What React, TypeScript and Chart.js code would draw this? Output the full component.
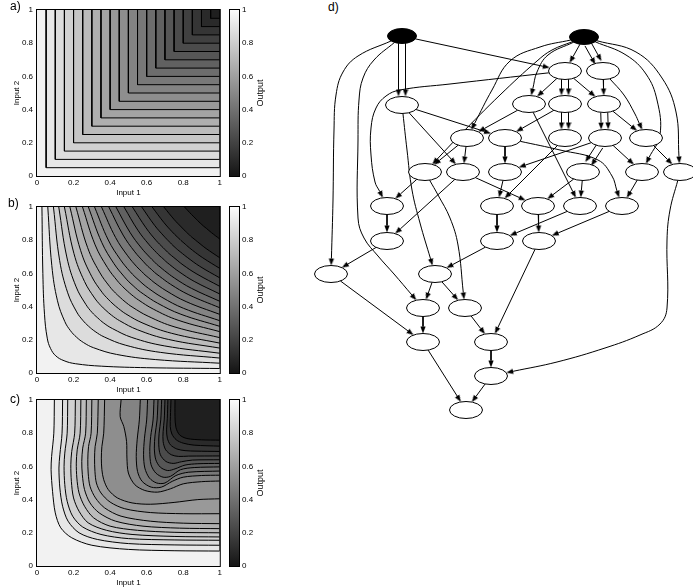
import React, { useEffect, useRef } from 'react';
import { Chart, registerables } from 'chart.js';
Chart.register(...registerables);

const FONT = "'Liberation Sans', Arial, Helvetica, sans-serif";

// ---------------- Panel a: contour levels (L-shaped contours) ----------------
const levelsA = [0.05, 0.1, 0.15, 0.2, 0.25, 0.3, 0.35, 0.4, 0.45, 0.5, 0.55, 0.6, 0.65, 0.7, 0.75, 0.8, 0.85, 0.9, 0.95];

// ---------------- Panel b: contour half-curves (top edge -> diagonal), symmetric about y = x ----------------
const halfCurvesB: number[][][] = [
  [[0.027, 1], [0.032, 0.6], [0.041, 0.354], [0.056, 0.21], [0.074, 0.148], [0.103, 0.103]],
  [[0.059, 1], [0.081, 0.647], [0.112, 0.435], [0.152, 0.31], [0.183, 0.255], [0.216, 0.216]],
  [[0.09, 1], [0.124, 0.677], [0.168, 0.483], [0.217, 0.368], [0.25, 0.318], [0.282, 0.282]],
  [[0.119, 1], [0.163, 0.699], [0.214, 0.519], [0.268, 0.412], [0.301, 0.365], [0.332, 0.332]],
  [[0.15, 1], [0.202, 0.72], [0.26, 0.551], [0.315, 0.452], [0.348, 0.408], [0.377, 0.377]],
  [[0.18, 1], [0.239, 0.737], [0.3, 0.58], [0.356, 0.486], [0.389, 0.445], [0.416, 0.416]],
  [[0.213, 1], [0.277, 0.755], [0.342, 0.608], [0.398, 0.52], [0.429, 0.482], [0.455, 0.455]],
  [[0.249, 1], [0.318, 0.772], [0.385, 0.636], [0.44, 0.555], [0.47, 0.519], [0.494, 0.494]],
  [[0.281, 1], [0.354, 0.787], [0.421, 0.659], [0.475, 0.583], [0.503, 0.549], [0.526, 0.526]],
  [[0.315, 1], [0.39, 0.801], [0.457, 0.682], [0.509, 0.611], [0.536, 0.58], [0.558, 0.558]],
  [[0.353, 1], [0.43, 0.816], [0.496, 0.706], [0.546, 0.64], [0.572, 0.612], [0.591, 0.591]],
  [[0.393, 1], [0.471, 0.831], [0.535, 0.73], [0.583, 0.67], [0.606, 0.643], [0.625, 0.625]],
  [[0.432, 1], [0.51, 0.845], [0.572, 0.752], [0.617, 0.697], [0.639, 0.673], [0.655, 0.655]],
  [[0.476, 1], [0.552, 0.86], [0.611, 0.776], [0.653, 0.726], [0.673, 0.704], [0.689, 0.689]],
  [[0.522, 1], [0.596, 0.875], [0.651, 0.799], [0.69, 0.755], [0.708, 0.735], [0.721, 0.721]],
  [[0.573, 1], [0.643, 0.89], [0.694, 0.825], [0.728, 0.786], [0.744, 0.768], [0.756, 0.756]],
  [[0.63, 1], [0.694, 0.907], [0.739, 0.851], [0.769, 0.818], [0.783, 0.804], [0.793, 0.793]],
  [[0.694, 1], [0.75, 0.925], [0.789, 0.88], [0.813, 0.853], [0.824, 0.841], [0.833, 0.833]],
  [[0.807, 1], [0.846, 0.954], [0.871, 0.927], [0.886, 0.91], [0.893, 0.903], [0.898, 0.898]],
];

// ---------------- Panel c: contour curves (top edge -> right edge) ----------------
const outerCurvesC: number[][][] = [
  [[0.095, 1], [0.092, 0.8], [0.08, 0.66], [0.077, 0.58], [0.085, 0.45], [0.1, 0.32], [0.13, 0.23], [0.19, 0.17], [0.3, 0.125], [0.5, 0.1], [0.75, 0.092], [1, 0.09]],
  [[0.14, 1], [0.137, 0.8], [0.125, 0.67], [0.12, 0.59], [0.125, 0.47], [0.14, 0.36], [0.17, 0.27], [0.23, 0.2], [0.33, 0.16], [0.5, 0.135], [0.75, 0.127], [1, 0.125]],
  [[0.168, 1], [0.165, 0.8], [0.152, 0.68], [0.148, 0.6], [0.152, 0.49], [0.165, 0.39], [0.195, 0.3], [0.25, 0.235], [0.35, 0.19], [0.5, 0.165], [0.75, 0.157], [1, 0.155]],
  [[0.21, 1], [0.206, 0.8], [0.19, 0.69], [0.185, 0.61], [0.188, 0.51], [0.2, 0.41], [0.23, 0.33], [0.28, 0.26], [0.38, 0.215], [0.52, 0.19], [0.75, 0.178], [1, 0.175]],
  [[0.24, 1], [0.236, 0.8], [0.22, 0.7], [0.215, 0.62], [0.218, 0.53], [0.23, 0.44], [0.26, 0.36], [0.31, 0.29], [0.4, 0.24], [0.55, 0.215], [0.75, 0.203], [1, 0.2]],
  [[0.27, 1], [0.266, 0.8], [0.25, 0.71], [0.245, 0.63], [0.248, 0.55], [0.26, 0.46], [0.29, 0.38], [0.34, 0.32], [0.43, 0.27], [0.58, 0.24], [0.78, 0.228], [1, 0.225]],
  [[0.3, 1], [0.296, 0.8], [0.282, 0.72], [0.278, 0.64], [0.28, 0.56], [0.29, 0.48], [0.32, 0.41], [0.37, 0.35], [0.46, 0.3], [0.62, 0.27], [0.8, 0.258], [1, 0.255]],
  [[0.335, 1], [0.33, 0.8], [0.318, 0.72], [0.315, 0.65], [0.317, 0.57], [0.325, 0.5], [0.35, 0.44], [0.4, 0.385], [0.48, 0.345], [0.62, 0.322], [0.8, 0.315], [1, 0.315]],
  [[0.37, 1], [0.365, 0.8], [0.355, 0.72], [0.352, 0.65], [0.355, 0.58], [0.365, 0.52], [0.39, 0.46], [0.44, 0.41], [0.52, 0.38], [0.62, 0.372], [0.75, 0.383], [0.88, 0.4], [1, 0.405]],
];
const lobeCurvesC: number[][][] = [
  [[0.46, 1], [0.455, 0.9], [0.475, 0.84], [0.49, 0.75], [0.492, 0.65], [0.5, 0.56], [0.535, 0.49], [0.59, 0.455], [0.66, 0.445], [0.73, 0.465], [0.8, 0.495], [0.9, 0.508], [1, 0.512]],
  [[0.565, 1], [0.56, 0.88], [0.548, 0.76], [0.543, 0.66], [0.55, 0.57], [0.575, 0.51], [0.625, 0.475], [0.68, 0.475], [0.74, 0.51], [0.8, 0.535], [0.9, 0.545], [1, 0.547]],
  [[0.605, 1], [0.6, 0.88], [0.588, 0.77], [0.583, 0.67], [0.59, 0.59], [0.615, 0.53], [0.655, 0.5], [0.7, 0.5], [0.76, 0.545], [0.83, 0.565], [1, 0.572]],
  [[0.64, 1], [0.635, 0.88], [0.622, 0.78], [0.617, 0.69], [0.624, 0.61], [0.65, 0.56], [0.69, 0.535], [0.73, 0.54], [0.785, 0.58], [0.86, 0.593], [1, 0.597]],
  [[0.662, 1], [0.657, 0.88], [0.646, 0.79], [0.642, 0.71], [0.65, 0.64], [0.675, 0.595], [0.715, 0.575], [0.755, 0.585], [0.81, 0.608], [0.88, 0.616], [1, 0.618]],
  [[0.682, 1], [0.677, 0.88], [0.668, 0.8], [0.666, 0.73], [0.675, 0.67], [0.705, 0.63], [0.745, 0.618], [0.79, 0.628], [0.85, 0.638], [1, 0.64]],
  [[0.7, 1], [0.696, 0.88], [0.69, 0.81], [0.69, 0.75], [0.704, 0.7], [0.735, 0.67], [0.775, 0.66], [0.83, 0.662], [1, 0.663]],
  [[0.716, 1], [0.713, 0.89], [0.709, 0.82], [0.713, 0.77], [0.73, 0.73], [0.765, 0.705], [0.81, 0.695], [0.87, 0.692], [1, 0.69]],
  [[0.733, 1], [0.73, 0.9], [0.729, 0.84], [0.738, 0.795], [0.762, 0.76], [0.8, 0.74], [0.86, 0.728], [1, 0.722]],
  [[0.755, 1], [0.755, 0.9], [0.76, 0.835], [0.78, 0.79], [0.82, 0.768], [0.9, 0.76], [1, 0.758]],
];

// ---------------- Panel d: directed graph ----------------
const nodeNames = ['R1', 'R2', 'A1', 'A2', 'B0', 'B1', 'B2', 'B3', 'C1', 'C2', 'C3', 'C4', 'C5', 'D1', 'D2', 'D3', 'D4', 'D5', 'D6', 'E1', 'E2', 'E3', 'E4', 'E5', 'F1', 'F2', 'F3', 'G1', 'G2', 'H1', 'H2', 'I1', 'I2', 'J1', 'K1'];
const nodeX = [402, 584, 565, 603, 402, 529, 565, 604, 467, 505, 565, 605, 646, 425, 463, 505, 583, 642, 680, 387, 497, 538, 580, 622, 387, 497, 539, 331, 435, 423, 465, 423, 491, 491, 466];
const nodeY = [36, 37, 71, 71, 105, 104, 104, 104, 138, 138, 138, 138, 138, 172, 172, 172, 172, 172, 172, 206, 206, 206, 206, 206, 241, 241, 241, 274, 274, 308, 308, 342, 342, 376, 410];
const rootNodes = ['R1', 'R2'];
// [from, to, multiplicity, bend points]
const edges: [string, string, number, number[][]][] = [
  ['R1', 'B0', 2, []],
  ['R1', 'A1', 1, []],
  ['R1', 'G1', 1, [[358, 56], [343, 72], [336, 95], [334, 130], [333, 200]]],
  ['R1', 'H1', 1, [[374, 60], [363, 78], [359, 100], [358, 140], [358, 218], [364, 238], [378, 256], [394, 274]]],
  ['R2', 'A1', 1, []],
  ['R2', 'A2', 2, []],
  ['R2', 'B1', 1, [[548, 55], [537, 72]]],
  ['R2', 'C1', 1, [[540, 47], [510, 61], [492, 90]]],
  ['R2', 'D1', 1, [[552, 50], [537, 61], [500, 95], [460, 135]]],
  ['R2', 'D5', 1, [[626, 55], [646, 74], [657, 100], [660, 135]]],
  ['R2', 'D6', 1, [[636, 52], [662, 78], [676, 112]]],
  ['A1', 'B1', 1, []],
  ['A1', 'B2', 2, []],
  ['A1', 'B3', 1, []],
  ['A1', 'E1', 1, [[450, 84], [400, 90], [386, 96], [376, 108], [371, 128], [371, 155], [375, 182]]],
  ['A2', 'B3', 1, []],
  ['A2', 'C5', 1, [[624, 95], [635, 114]]],
  ['B0', 'C2', 1, []],
  ['B0', 'D2', 1, []],
  ['B0', 'G2', 1, [[407, 150], [412, 190], [420, 223]]],
  ['B1', 'C1', 1, []],
  ['B1', 'E4', 1, []],
  ['B2', 'C2', 1, []],
  ['B2', 'C3', 2, []],
  ['B3', 'C4', 2, []],
  ['B3', 'C5', 1, []],
  ['C1', 'D1', 1, []],
  ['C1', 'D2', 1, []],
  ['C2', 'D3', 1, []],
  ['C2', 'E5', 1, [[560, 150], [598, 160], [612, 176]]],
  ['C3', 'E2', 1, []],
  ['C4', 'D3', 1, []],
  ['C4', 'D4', 2, []],
  ['C4', 'D5', 1, []],
  ['C5', 'D6', 1, []],
  ['D1', 'E1', 1, []],
  ['D1', 'H2', 1, [[438, 195], [450, 218], [458, 245]]],
  ['D2', 'E3', 1, []],
  ['D2', 'F1', 1, []],
  ['D3', 'E2', 1, []],
  ['D4', 'E3', 1, []],
  ['D4', 'E4', 1, []],
  ['D5', 'E5', 1, []],
  ['D6', 'J1', 1, [[670, 210], [667, 240], [667, 308], [660, 324], [640, 335], [605, 348], [557, 362]]],
  ['E1', 'F1', 1, []],
  ['E2', 'F2', 1, []],
  ['E3', 'F3', 1, []],
  ['E4', 'F2', 1, []],
  ['E5', 'F3', 1, []],
  ['F1', 'G1', 1, []],
  ['F2', 'G2', 1, []],
  ['F3', 'I2', 1, []],
  ['G1', 'I1', 1, []],
  ['G2', 'H1', 1, []],
  ['G2', 'H2', 1, []],
  ['H1', 'I1', 1, []],
  ['H2', 'I2', 1, []],
  ['I1', 'K1', 1, []],
  ['I2', 'J1', 1, []],
  ['J1', 'K1', 1, []],
];

// ---------------- helpers ----------------
const tickFont = { family: FONT, size: 8 };
const fmtTick = (v: any) => {
  const n = Math.round(Number(v) * 100) / 100;
  return String(n);
};
const gray = (v: number) => {
  const c = Math.round(Math.max(0, Math.min(1, v)) * 255);
  return `rgb(${c},${c},${c})`;
};
const bandColor = (i: number, n: number) => gray(0.95 - i * (0.83 / n));

const framePlugin = {
  id: 'frame',
  beforeDatasetsDraw(chart: any, _a: any, opts: any) {
    if (!opts || !opts.bg) return;
    const { ctx, chartArea: a } = chart;
    ctx.save();
    ctx.fillStyle = opts.bg;
    ctx.fillRect(a.left, a.top, a.right - a.left, a.bottom - a.top);
    ctx.restore();
  },
  afterDatasetsDraw(chart: any) {
    const { ctx, chartArea: a } = chart;
    ctx.save();
    ctx.strokeStyle = '#000';
    ctx.lineWidth = 1;
    ctx.strokeRect(a.left - 0.5, a.top - 0.5, a.right - a.left + 1, a.bottom - a.top + 1);
    ctx.restore();
  },
};

function mirrorHalf(half: number[][]) {
  const back = half.slice(0, -1).reverse().map(([x, y]) => [y, x]);
  return [...half, ...back];
}

function ContourPanel({ top, curves, tension }: { top: number; curves: number[][][]; tension: number }) {
  const ref = useRef<HTMLCanvasElement>(null);
  useEffect(() => {
    const n = curves.length;
    const datasets = curves.map((pts, k) => {
      const data = pts.map(([x, y]) => ({ x, y }));
      const last = data[data.length - 1];
      data.push({ x: last.x, y: last.y }, { x: 1, y: 1 });
      return {
        data,
        showLine: true,
        fill: 'shape',
        backgroundColor: bandColor(k + 1, n),
        borderColor: '#000',
        borderWidth: 1,
        pointRadius: 0,
        pointHoverRadius: 0,
        tension,
        order: -k,
      };
    });
    const chart = new Chart(ref.current as HTMLCanvasElement, {
      type: 'scatter',
      data: { datasets } as any,
      options: {
        animation: false,
        responsive: false,
        events: [],
        layout: { padding: { top: 10, left: 0, right: 2, bottom: 0 }, autoPadding: false } as any,
        plugins: { legend: { display: false }, tooltip: { enabled: false }, frame: { bg: bandColor(0, n) } } as any,
        scales: {
          x: {
            type: 'linear', min: 0, max: 1,
            ticks: { stepSize: 0.2, padding: 2, font: tickFont, color: '#000', maxRotation: 0, autoSkip: false, callback: fmtTick },
            grid: { display: false, drawTicks: false },
            border: { display: false },
            title: { display: true, text: 'Input 1', font: tickFont, color: '#000', padding: 0 },
            afterFit: (s: any) => { s.height = 22; },
          },
          y: {
            type: 'linear', min: 0, max: 1,
            ticks: { stepSize: 0.2, padding: 4, font: tickFont, color: '#000', autoSkip: false, callback: fmtTick },
            grid: { display: false, drawTicks: false },
            border: { display: false },
            title: { display: true, text: 'Input 2', font: tickFont, color: '#000', padding: { top: 12, bottom: 0 } },
            afterFit: (s: any) => { s.width = 37; },
          },
        } as any,
      },
      plugins: [framePlugin as any],
    });
    return () => chart.destroy();
  }, []);
  return <canvas ref={ref} width={224} height={198} style={{ position: 'absolute', left: 0, top: top - 10, width: 224, height: 198 }} />;
}

function Colorbar({ top }: { top: number }) {
  const ref = useRef<HTMLCanvasElement>(null);
  useEffect(() => {
    const chart = new Chart(ref.current as HTMLCanvasElement, {
      type: 'bar',
      data: {
        labels: ['Output'],
        datasets: [{
          data: [[0, 1]] as any,
          backgroundColor: (c: any) => {
            const a = c.chart.chartArea;
            if (!a) return '#888';
            const g = c.chart.ctx.createLinearGradient(0, a.bottom, 0, a.top);
            g.addColorStop(0, '#141414');
            g.addColorStop(1, '#fcfcfc');
            return g;
          },
          borderWidth: 0,
          categoryPercentage: 1,
          barPercentage: 1,
        }],
      },
      options: {
        animation: false,
        responsive: false,
        events: [],
        layout: { padding: { top: 10, bottom: 10, left: 2, right: 0 }, autoPadding: false } as any,
        plugins: { legend: { display: false }, tooltip: { enabled: false } } as any,
        scales: {
          x: { display: false },
          y: {
            position: 'right', min: 0, max: 1,
            ticks: { stepSize: 0.2, padding: 3, font: tickFont, color: '#000', callback: fmtTick },
            grid: { display: false, drawTicks: false },
            border: { display: false },
            afterFit: (s: any) => { s.width = 37; },
          },
        } as any,
      },
      plugins: [framePlugin as any],
    });
    return () => chart.destroy();
  }, []);
  return <canvas ref={ref} width={48} height={186} style={{ position: 'absolute', left: 228, top: top - 10, width: 48, height: 186 }} />;
}

function GraphPanel() {
  const ref = useRef<HTMLCanvasElement>(null);
  useEffect(() => {
    const ell = (rx: number, ry: number, fill: string) => {
      const c = document.createElement('canvas');
      c.width = 2 * Math.ceil(rx + 1.5);
      c.height = 2 * Math.ceil(ry + 1.5);
      const g = c.getContext('2d') as CanvasRenderingContext2D;
      g.beginPath();
      g.ellipse(c.width / 2, c.height / 2, rx, ry, 0, 0, Math.PI * 2);
      g.fillStyle = fill;
      g.fill();
      g.lineWidth = 1;
      g.strokeStyle = '#000';
      g.stroke();
      return c;
    };
    const WR = [16.5, 8.5];
    const BR = [14.5, 7.5];
    const whiteNode = ell(WR[0], WR[1], '#fff');
    const blackNode = ell(BR[0], BR[1], '#000');
    const AL = 7;
    const arrow = document.createElement('canvas');
    arrow.width = 6;
    arrow.height = 2 * AL;
    {
      const g = arrow.getContext('2d') as CanvasRenderingContext2D;
      g.beginPath();
      g.moveTo(3, 0);
      g.lineTo(5.6, AL);
      g.lineTo(0.4, AL);
      g.closePath();
      g.fillStyle = '#000';
      g.fill();
    }
    const idx: Record<string, number> = {};
    nodeNames.forEach((n, i) => { idx[n] = i; });
    const radii = (i: number) => (rootNodes.includes(nodeNames[i]) ? BR : WR);
    const onBoundary = (i: number, tx: number, ty: number) => {
      const [rx, ry] = radii(i);
      const dx = tx - nodeX[i];
      const dy = ty - nodeY[i];
      const r = 1 / Math.sqrt((dx / rx) ** 2 + (dy / ry) ** 2);
      return [nodeX[i] + dx * r, nodeY[i] + dy * r];
    };

    const edgeSets: { x: number; y: number }[][] = [];
    const arrowPts: { x: number; y: number }[] = [];
    const arrowRot: number[] = [];
    edges.forEach(([a, b, mult, way]) => {
      const s = idx[a];
      const t = idx[b];
      const offs = mult === 2 ? [-3.5, 3.5] : [0];
      offs.forEach((off) => {
        const first = way.length ? way[0] : [nodeX[t], nodeY[t]];
        const lastSrc = way.length ? way[way.length - 1] : [nodeX[s], nodeY[s]];
        let p0 = onBoundary(s, first[0], first[1]);
        let tip = onBoundary(t, lastSrc[0], lastSrc[1]);
        if (off) {
          const dx = tip[0] - p0[0];
          const dy = tip[1] - p0[1];
          const len = Math.hypot(dx, dy);
          const px = (-dy / len) * off;
          const py = (dx / len) * off;
          p0 = [p0[0] + px, p0[1] + py];
          tip = [tip[0] + px, tip[1] + py];
        }
        const prev = way.length ? way[way.length - 1] : p0;
        const ux0 = tip[0] - prev[0];
        const uy0 = tip[1] - prev[1];
        const ul = Math.hypot(ux0, uy0);
        const ux = ux0 / ul;
        const uy = uy0 / ul;
        const base = [tip[0] - ux * AL, tip[1] - uy * AL];
        const pts = [p0, ...way, base].map(([x, y]) => ({ x, y }));
        edgeSets.push(pts);
        arrowPts.push({ x: base[0], y: base[1] });
        arrowRot.push((Math.atan2(ux, -uy) * 180) / Math.PI);
      });
    });

    const whiteData: { x: number; y: number }[] = [];
    const blackData: { x: number; y: number }[] = [];
    nodeNames.forEach((n, i) => {
      (rootNodes.includes(n) ? blackData : whiteData).push({ x: nodeX[i], y: nodeY[i] });
    });

    const datasets: any[] = [
      { data: whiteData, pointStyle: whiteNode, pointRadius: 8, pointHoverRadius: 8, order: 0 },
      { data: blackData, pointStyle: blackNode, pointRadius: 8, pointHoverRadius: 8, order: 0 },
      { data: arrowPts, pointStyle: arrow, pointRotation: arrowRot, pointRadius: 4, pointHoverRadius: 4, order: 1 },
      ...edgeSets.map((pts) => ({
        data: pts,
        showLine: true,
        pointRadius: 0,
        pointHoverRadius: 0,
        borderColor: '#000',
        borderWidth: 1,
        tension: pts.length > 2 ? 0.4 : 0,
        fill: false,
        order: 2,
      })),
    ];

    const chart = new Chart(ref.current as HTMLCanvasElement, {
      type: 'scatter',
      data: { datasets },
      options: {
        animation: false,
        responsive: false,
        events: [],
        layout: { padding: 0, autoPadding: false } as any,
        plugins: { legend: { display: false }, tooltip: { enabled: false } } as any,
        scales: {
          x: { type: 'linear', min: 300, max: 693, display: false },
          y: { type: 'linear', min: 0, max: 430, reverse: true, display: false },
        } as any,
      },
    });
    return () => chart.destroy();
  }, []);
  return <canvas ref={ref} width={393} height={430} style={{ position: 'absolute', left: 300, top: 0, width: 393, height: 430 }} />;
}

const panelLabel = (text: string, left: number, top: number) => (
  <div style={{ position: 'absolute', left, top, fontSize: 12, lineHeight: '12px', fontFamily: FONT, color: '#000' }}>{text}</div>
);
const outputLabel = (cy: number) => (
  <div style={{ position: 'absolute', left: 260, top: cy, transform: 'translate(-50%, -50%) rotate(-90deg)', fontSize: 9, lineHeight: '10px', fontFamily: FONT, whiteSpace: 'nowrap', color: '#000' }}>Output</div>
);

export default function App() {
  const curvesA = levelsA.map((t) => [[t, 1], [t, t], [1, t]]);
  const curvesB = halfCurvesB.map(mirrorHalf);
  const curvesC = [...outerCurvesC, ...lobeCurvesC];
  const tops = [10, 207, 400];
  return (
    <div style={{ position: 'absolute', left: 0, top: 0, width: 693, height: 588, background: '#fff', overflow: 'hidden' }}>
      <ContourPanel top={tops[0]} curves={curvesA} tension={0} />
      <ContourPanel top={tops[1]} curves={curvesB} tension={0.4} />
      <ContourPanel top={tops[2]} curves={curvesC} tension={0.3} />
      <Colorbar top={tops[0]} />
      <Colorbar top={tops[1]} />
      <Colorbar top={tops[2]} />
      {outputLabel(tops[0] + 83)}
      {outputLabel(tops[1] + 83)}
      {outputLabel(tops[2] + 83)}
      {panelLabel('a)', 10, 0)}
      {panelLabel('b)', 8, 197)}
      {panelLabel('c)', 10, 393)}
      {panelLabel('d)', 328, 1)}
      <GraphPanel />
    </div>
  );
}
